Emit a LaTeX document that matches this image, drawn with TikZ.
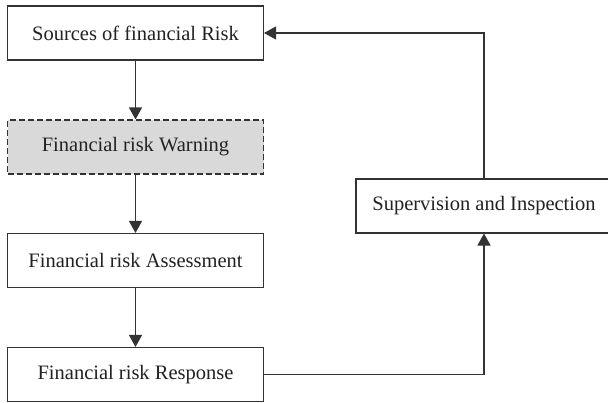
\documentclass[tikz,border=0pt]{standalone}
\usepackage{fontspec}
\setmainfont{Liberation Serif}
\usetikzlibrary{arrows.meta}
\definecolor{linegray}{HTML}{333333}
\definecolor{textgray}{HTML}{222222}
\definecolor{fillgray}{HTML}{D9D9D9}
\begin{document}
\begin{tikzpicture}[x=1pt,y=-1pt,
  box/.style={draw=linegray, line width=1.1pt, minimum width=256pt, minimum height=54pt,
    inner sep=0pt, font=\fontsize{20.5}{24}\selectfont, text=textgray, fill=white},
  warnbox/.style={box, fill=fillgray, dashed, dash pattern=on 6pt off 3pt},
  conn/.style={draw=linegray, line width=1.1pt, -{Triangle[length=12pt,width=13pt]}}]
\clip (0,0) rectangle (608,402);
\fill[white] (0,0) rectangle (608,402);
\node[box] (src) at (135.5,33) {Sources of financial Risk};
\node[warnbox] (warn) at (135.5,147) {Financial risk Warning};
\node[box] (assess) at (135.5,260.5) {Financial risk Assessment};
\node[box] (resp) at (135.5,374.5) {Financial risk Response};
\node[box] (sup) at (484,206) {Supervision and Inspection};
\draw[conn] (src) -- (warn);
\draw[conn] (warn) -- (assess);
\draw[conn] (assess) -- (resp);
\draw[conn] (resp.east) -| (sup.south);
\draw[conn] (sup.north) |- (src.east);
\end{tikzpicture}
\end{document}
